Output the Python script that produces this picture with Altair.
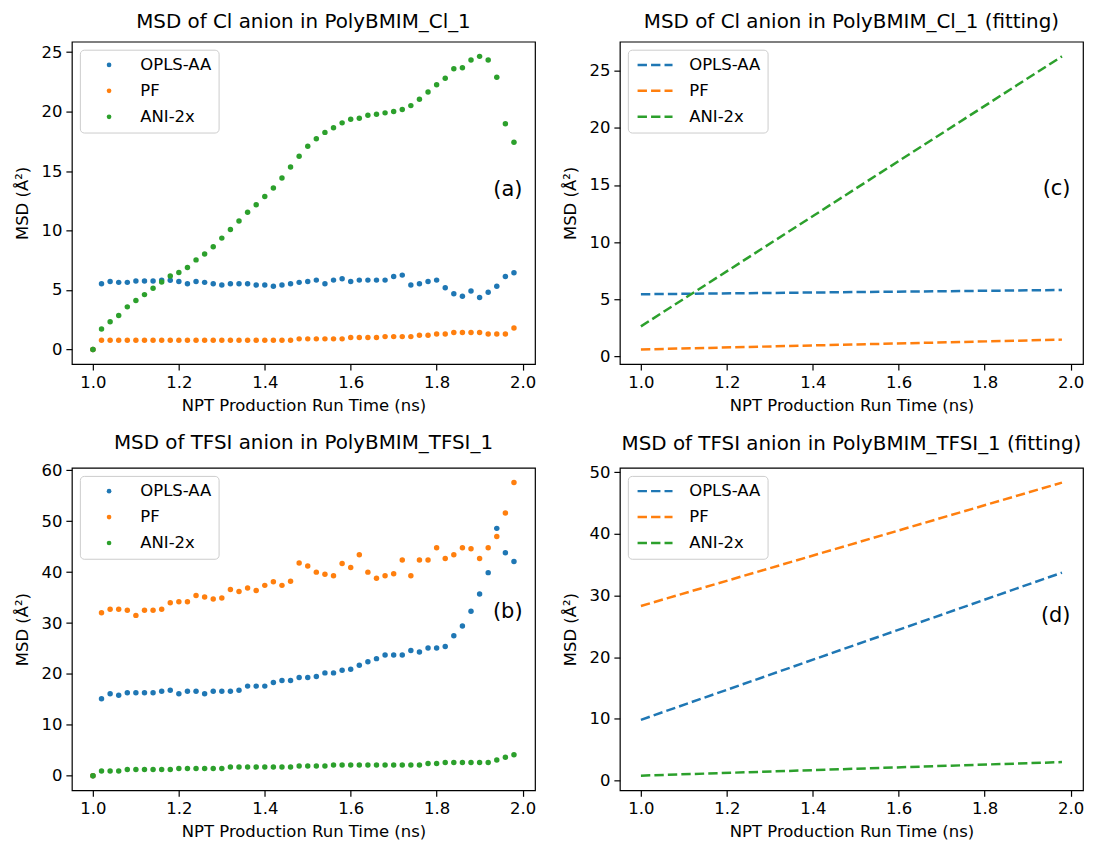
import altair as alt
import pandas as pd

# ---------------- data ----------------
times = [1.00, 1.02, 1.04, 1.06, 1.08, 1.10, 1.12, 1.14, 1.16, 1.18,
         1.20, 1.22, 1.24, 1.26, 1.28, 1.30, 1.32, 1.34, 1.36, 1.38,
         1.40, 1.42, 1.44, 1.46, 1.48, 1.50, 1.52, 1.54, 1.56, 1.58,
         1.60, 1.62, 1.64, 1.66, 1.68, 1.70, 1.72, 1.74, 1.76, 1.78,
         1.80, 1.82, 1.84, 1.86, 1.88, 1.90, 1.92, 1.94, 1.96, 1.98]

series_names = ["OPLS-AA", "PF", "ANI-2x"]
series_colors = ["#1f77b4", "#ff7f0e", "#2ca02c"]

cl_opls = [0, 5.53, 5.72, 5.64, 5.64, 5.75, 5.75, 5.75, 5.83, 5.81,
           5.72, 5.53, 5.72, 5.64, 5.53, 5.42, 5.53, 5.53, 5.53, 5.42,
           5.42, 5.31, 5.42, 5.53, 5.64, 5.72, 5.83, 5.53, 5.83, 5.94,
           5.72, 5.83, 5.83, 5.83, 5.83, 6.14, 6.25, 5.42, 5.53, 5.72,
           5.83, 5.19, 4.69, 4.47, 4.92, 4.36, 4.81, 5.31, 6.14, 6.44]
cl_pf = [0, 0.78, 0.78, 0.78, 0.78, 0.78, 0.78, 0.78, 0.78, 0.78,
         0.78, 0.78, 0.78, 0.78, 0.78, 0.78, 0.78, 0.78, 0.78, 0.78,
         0.78, 0.78, 0.78, 0.78, 0.89, 0.89, 0.89, 0.89, 0.89, 0.89,
         1.00, 1.00, 1.00, 1.00, 1.08, 1.08, 1.08, 1.08, 1.19, 1.19,
         1.30, 1.30, 1.42, 1.42, 1.42, 1.42, 1.30, 1.30, 1.30, 1.81]
cl_ani = [0, 1.72, 2.33, 2.86, 3.58, 4.11, 4.61, 5.14, 5.67, 6.17,
          6.47, 6.89, 7.53, 8.03, 8.64, 9.36, 10.08, 10.80, 11.53, 12.17,
          12.86, 13.58, 14.42, 15.33, 16.25, 17.08, 17.72, 18.25, 18.64, 19.05,
          19.36, 19.44, 19.69, 19.78, 19.89, 20.00, 20.17, 20.50, 21.03, 21.64,
          22.25, 22.80, 23.60, 23.69, 24.33, 24.64, 24.33, 22.89, 18.97, 17.42]

tfsi_opls = [0, 15.1, 16.1, 15.8, 16.3, 16.3, 16.3, 16.3, 16.6, 16.8,
             16.1, 16.6, 16.6, 16.1, 16.6, 16.6, 16.6, 16.8, 17.6, 17.6,
             17.6, 18.3, 18.7, 18.7, 19.3, 19.3, 19.5, 20.2, 20.2, 20.7,
             20.9, 21.7, 22.4, 23.0, 23.7, 23.7, 23.7, 24.6, 24.3, 25.1,
             25.1, 25.4, 27.5, 29.4, 32.3, 35.7, 39.9, 48.6, 43.8, 42.1]
tfsi_pf = [0, 32.0, 32.7, 32.7, 32.5, 31.5, 32.5, 32.5, 32.7, 34.0,
           34.2, 34.2, 35.4, 35.1, 34.7, 34.9, 36.6, 36.2, 36.9, 36.4,
           37.4, 38.1, 37.4, 38.2, 41.8, 41.2, 40.0, 39.6, 39.3, 41.7,
           40.9, 43.4, 40.0, 38.8, 39.3, 39.7, 42.4, 39.3, 42.4, 42.4,
           44.8, 42.7, 43.4, 44.8, 44.6, 42.7, 44.8, 47.0, 51.6, 57.6]
tfsi_ani = [0, 0.9, 0.9, 0.9, 1.2, 1.2, 1.2, 1.2, 1.2, 1.2,
            1.4, 1.4, 1.4, 1.4, 1.4, 1.4, 1.7, 1.7, 1.7, 1.7,
            1.7, 1.7, 1.7, 1.7, 1.9, 1.9, 1.9, 1.9, 2.1, 2.1,
            2.1, 2.1, 2.1, 2.1, 2.1, 2.1, 2.1, 2.1, 2.1, 2.4,
            2.4, 2.6, 2.6, 2.6, 2.6, 2.6, 2.6, 3.1, 3.6, 4.1]

# fitted straight lines (end points)
fit_times = [1.00, 1.98]
cl_fit_opls = [5.44, 5.81]
cl_fit_pf = [0.61, 1.47]
cl_fit_ani = [2.63, 26.25]
tfsi_fit_opls = [9.85, 33.7]
tfsi_fit_pf = [28.3, 48.3]
tfsi_fit_ani = [0.8, 3.0]

titles = ["MSD of Cl anion in PolyBMIM_Cl_1",
          "MSD of Cl anion in PolyBMIM_Cl_1 (fitting)",
          "MSD of TFSI anion in PolyBMIM_TFSI_1",
          "MSD of TFSI anion in PolyBMIM_TFSI_1 (fitting)"]
panel_letters = ["(a)", "(c)", "(b)", "(d)"]
letter_y = [13.4, 14.66, 32.2, 26.6]
letter_x = 2.0

x_ticks = [1.0, 1.2, 1.4, 1.6, 1.8, 2.0]
x_title = "NPT Production Run Time (ns)"
y_title = "MSD (Å²)"

FONT = "DejaVu Sans"
W, H = 464, 323


def tidy(t, cols):
    rows = []
    for name, vals in zip(series_names, cols):
        for tt, v in zip(t, vals):
            rows.append({"t": tt, "msd": v, "series": name})
    return pd.DataFrame(rows)


def pad_domain(vals):
    lo, hi = min(vals), max(vals)
    m = 0.05 * (hi - lo)
    return [lo - m, hi + m]


x_dom = pad_domain(times)


def legend(kind):
    common = dict(title=None, orient="top-left", offset=8, padding=7,
                  labelFontSize=16.5, labelFont=FONT,
                  labelColor="black", strokeColor="#cccccc",
                  fillColor="rgba(255,255,255,0.8)", cornerRadius=4,
                  labelLimit=400, rowPadding=9)
    if kind == "point":
        return alt.Legend(symbolType="circle", symbolSize=22,
                          symbolStrokeWidth=0, symbolOffset=14,
                          labelOffset=23, **common)
    return alt.Legend(symbolType="M-4,0H4", symbolSize=76.6,
                      symbolStrokeWidth=2.5, symbolDash=[9.4, 4.1],
                      symbolOffset=12, labelOffset=26, **common)


def panel(df, kind, title, yticks, idx):
    ydom = pad_domain(df["msd"].tolist())
    x = alt.X("t:Q", scale=alt.Scale(domain=x_dom, nice=False, zero=False),
              axis=alt.Axis(values=x_ticks, format=".1f", title=x_title))
    y = alt.Y("msd:Q", scale=alt.Scale(domain=ydom, nice=False, zero=False),
              axis=alt.Axis(values=yticks, format="d", title=y_title))
    color = alt.Color("series:N",
                      scale=alt.Scale(domain=series_names, range=series_colors),
                      legend=legend(kind))
    base = alt.Chart(df)
    if kind == "point":
        marks = base.mark_circle(size=30, opacity=1).encode(x=x, y=y, color=color)
    else:
        marks = base.mark_line(strokeWidth=2.5, strokeDash=[9.4, 4.1]).encode(
            x=x, y=y, color=color, detail="series:N")
    ann = alt.Chart(pd.DataFrame({"t": [letter_x], "msd": [letter_y[idx]],
                                  "label": [panel_letters[idx]]})).mark_text(
        align="right", baseline="middle", fontSize=21, font=FONT, color="black"
    ).encode(x=alt.X("t:Q"), y=alt.Y("msd:Q"), text="label:N")
    return alt.layer(marks, ann).properties(
        width=W, height=H,
        title=alt.TitleParams(title, limit=800))


df_a = tidy(times, [cl_opls, cl_pf, cl_ani])
df_c = tidy(fit_times, [cl_fit_opls, cl_fit_pf, cl_fit_ani])
df_b = tidy(times, [tfsi_opls, tfsi_pf, tfsi_ani])
df_d = tidy(fit_times, [tfsi_fit_opls, tfsi_fit_pf, tfsi_fit_ani])

pa = panel(df_a, "point", titles[0], [0, 5, 10, 15, 20, 25], 0)
pc = panel(df_c, "line", titles[1], [0, 5, 10, 15, 20, 25], 1)
pb = panel(df_b, "point", titles[2], [0, 10, 20, 30, 40, 50, 60], 2)
pd_ = panel(df_d, "line", titles[3], [0, 10, 20, 30, 40, 50], 3)

ind = dict(x="independent", y="independent", color="independent")
row1 = alt.hconcat(pa, pc, spacing=25).resolve_scale(**ind)
row2 = alt.hconcat(pb, pd_, spacing=25).resolve_scale(**ind)

chart = alt.vconcat(row1, row2, spacing=16).resolve_scale(**ind).properties(
    padding={"left": 6, "top": 2, "right": 0, "bottom": 0}
).configure_view(
    stroke="black", strokeWidth=1.2
).configure_axis(
    labelFont=FONT, labelFontSize=16.5, labelColor="black",
    titleFont=FONT, titleFontSize=16.5, titleFontWeight="normal",
    titleColor="black", tickColor="black", tickSize=6, tickWidth=1.2,
    domain=False, grid=False, labelPadding=4, titlePadding=7,
    labelFlush=False, labelOverlap=False
).configure_axisY(
    titlePadding=10
).configure_title(
    font=FONT, fontSize=19.9, fontWeight="normal", color="black",
    offset=10, anchor="middle"
)

chart.save("out.html", embed_options={"renderer": "svg", "actions": False})
